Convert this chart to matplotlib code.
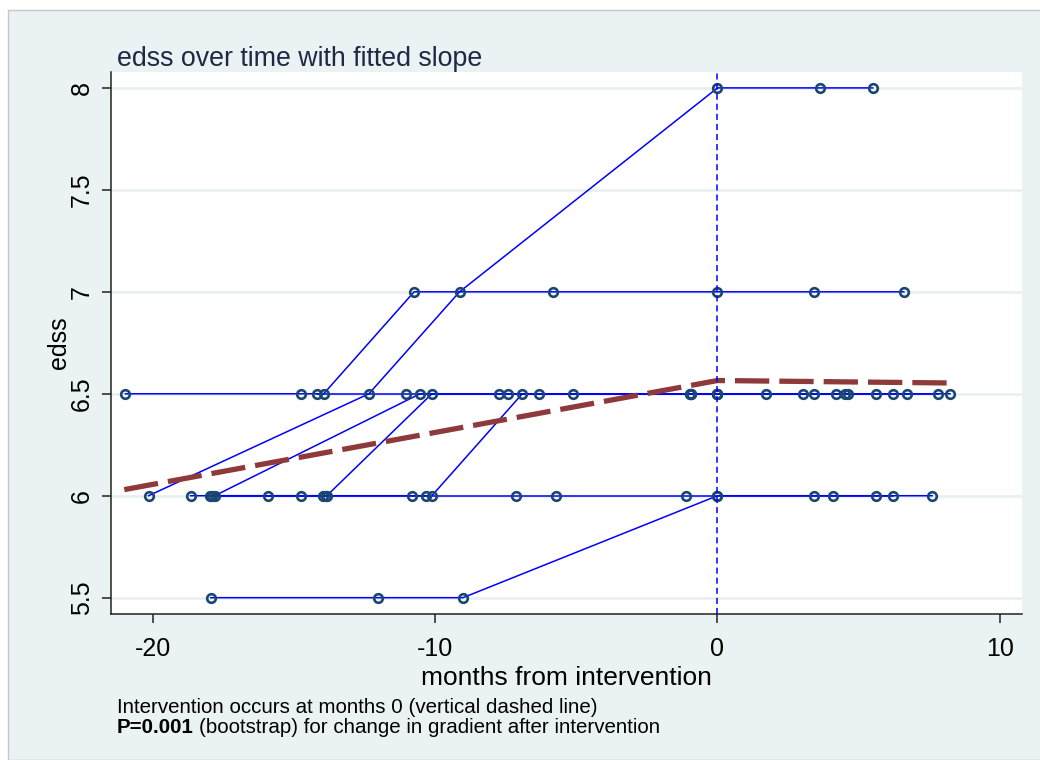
import matplotlib
matplotlib.use("Agg")
import matplotlib.pyplot as plt
from matplotlib.patches import Rectangle

plt.rcParams['font.family'] = ['Liberation Sans', 'DejaVu Sans']
plt.rcParams['axes.unicode_minus'] = False

# Individual patient trajectories: months from intervention and EDSS score
pt1_months = [-17.94, -12.02, -9.01, 0.0, 3.40, 5.60, 7.60]
pt1_edss = [5.5, 5.5, 5.5, 6.0, 6.0, 6.0, 6.0]

pt2_months = [-20.14, -12.34, -9.13, 0.0, 3.62, 5.50]
pt2_edss = [6.0, 6.5, 7.0, 8.0, 8.0, 8.0]

pt3_months = [-20.96, -14.75, -13.94, -10.74, -5.82, 0.0, 3.40, 6.60]
pt3_edss = [6.5, 6.5, 6.5, 7.0, 7.0, 7.0, 7.0, 7.0]

pt4_months = [-17.80, -10.53, -7.41, -6.31, -0.99, 0.0, 3.01, 4.61, 6.21, 8.23]
pt4_edss = [6.0, 6.5, 6.5, 6.5, 6.5, 6.5, 6.5, 6.5, 6.5, 6.5]

pt5_months = [-18.65, -15.92, -13.83, -10.11, -0.92, 0.0, 3.40, 5.60, 6.70]
pt5_edss = [6.0, 6.0, 6.0, 6.5, 6.5, 6.5, 6.5, 6.5, 6.5]

pt6_months = [-17.98, -14.75, -13.97, -10.82, -10.32, -10.11, -6.91, -0.95, 0.0, 4.18]
pt6_edss = [6.0, 6.0, 6.0, 6.0, 6.0, 6.0, 6.5, 6.5, 6.5, 6.5]

pt7_months = [-17.91, -13.87, -7.13, -5.71, -1.10, 0.0, 4.08, 6.21]
pt7_edss = [6.0, 6.0, 6.0, 6.0, 6.0, 6.0, 6.0, 6.0]

pt8_months = [-14.18, -11.03, -7.73, -5.11, -0.96, 0.0, 1.70, 4.50, 7.80]
pt8_edss = [6.5, 6.5, 6.5, 6.5, 6.5, 6.5, 6.5, 6.5, 6.5]

# Fitted piecewise slope (before / after intervention)
fit_months = [-21.0, 0.0, 8.2]
fit_edss = [6.03, 6.565, 6.553]

x_ticks = [-20, -10, 0, 10]
y_ticks = [5.5, 6.0, 6.5, 7.0, 7.5, 8.0]
y_ticklabels = ['5.5', '6', '6.5', '7', '7.5', '8']

patients = [
    (pt1_months, pt1_edss), (pt2_months, pt2_edss), (pt3_months, pt3_edss),
    (pt4_months, pt4_edss), (pt5_months, pt5_edss), (pt6_months, pt6_edss),
    (pt7_months, pt7_edss), (pt8_months, pt8_edss),
]

W, H = 1040, 760
fig = plt.figure(figsize=(W / 100, H / 100), dpi=100)
fig.patch.set_facecolor('white')

# graph region background with thin border
bg = Rectangle((8 / W, 0), 1 - 8 / W + 0.01, (H - 10) / H, transform=fig.transFigure,
               facecolor='#EAF2F3', edgecolor='#C4C8CA', linewidth=1.0, zorder=-10)
fig.add_artist(bg)

ax = fig.add_axes([111 / W, (H - 614) / H, (1022 - 111) / W, (614 - 72) / H])
ax.set_zorder(1)
ax.set_facecolor('white')

for m, e in patients:
    ax.plot(m, e, color='#0000FF', lw=1.1, zorder=2, solid_joinstyle='round')
for m, e in patients:
    ax.plot(m, e, linestyle='none', marker='o', markersize=6.2, markerfacecolor='none',
            markeredgecolor='#1A476F', markeredgewidth=1.9, zorder=3)

ax.plot(fit_months, fit_edss, color='#8E3A3A', lw=3.8, dashes=(6.5, 1.9),
        solid_capstyle='butt', dash_capstyle='butt', zorder=4)

ax.axvline(0, color='#0000FF', lw=1.1, dashes=(4, 2.6), zorder=5)

ax.set_xlim(-21.47, 10.78)
ax.set_ylim(5.42, 8.078)
ax.set_xticks(x_ticks)
ax.set_yticks(y_ticks)
ax.set_yticklabels(y_ticklabels, rotation=90, va='center')

ax.yaxis.grid(True, color='#E6EFF1', lw=1.8, zorder=0)
ax.set_axisbelow(True)

for s in ['top', 'right']:
    ax.spines[s].set_visible(False)
for s in ['left', 'bottom']:
    ax.spines[s].set_color('#222222')
    ax.spines[s].set_linewidth(1.1)

ax.tick_params(axis='both', direction='out', length=6.5, width=1.1, color='#222222',
               labelsize=18, labelcolor='black')
ax.tick_params(axis='x', pad=10)
ax.tick_params(axis='y', pad=6)

ax.set_xlabel('months from intervention', fontsize=19, labelpad=4)
ax.set_ylabel('edss', fontsize=18, labelpad=-1)

fig.text(117 / W, (H - 66) / H, 'edss over time with fitted slope', fontsize=19.3,
         color='#1E2A44', ha='left', va='baseline')

fig.text(117 / W, (H - 713) / H, 'Intervention occurs at months 0 (vertical dashed line)',
         fontsize=14.8, ha='left', va='baseline')
bold = fig.text(117 / W, (H - 733) / H, 'P=0.001', fontsize=14.8, fontweight='bold',
                ha='left', va='baseline')
renderer = fig.canvas.get_renderer()
bb = bold.get_window_extent(renderer)
fig.text(bb.x1 / W + 5 / W, (H - 733) / H,
         '(bootstrap) for change in gradient after intervention',
         fontsize=14.8, ha='left', va='baseline')

fig.savefig('out.png', dpi=100)
